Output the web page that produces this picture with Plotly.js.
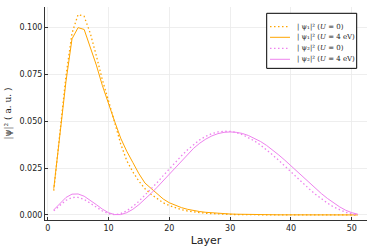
<!DOCTYPE html>
<html><head><meta charset="utf-8">
<script src="https://cdn.plot.ly/plotly-3.0.1.min.js"></script>
<style>html,body{margin:0;padding:0;background:#fff;}</style>
</head><body>
<div id="chart" style="width:374px;height:249px;"></div>
<script>
const layers = Array.from({length: 51}, (_, i) => i + 1);
const psi1_U0 = [0.013,0.044,0.074,0.097,0.107,0.106,0.097,0.085,0.072,0.061,0.049,0.038,0.029,0.023,0.018,0.014,0.011,0.0085,0.0065,0.005,0.0037,0.0028,0.0021,0.0016,0.0012,0.0009,0.0007,0.0005,0.0004,0.0003,0.0002,0.00015,0.0001,0.00008,0.00006,0.00004,0.00003,0.00002,0.00002,0.00001,0.00001,0.00001,0,0,0,0,0,0,0,0,0];
const psi1_U4 = [0.014,0.043,0.071,0.094,0.100,0.099,0.090,0.080,0.069,0.059,0.050,0.041,0.034,0.028,0.022,0.017,0.014,0.011,0.0085,0.0065,0.005,0.0039,0.003,0.0023,0.0018,0.0014,0.0011,0.0008,0.0006,0.0005,0.0004,0.0003,0.00022,0.00017,0.00013,0.0001,0.00008,0.00006,0.00005,0.00004,0.00003,0.00002,0.00002,0.00001,0.00001,0.00001,0,0,0,0,0];
const psi2_U0 = [0.0022,0.005,0.0078,0.0093,0.0094,0.0083,0.0064,0.0042,0.0021,0.0007,0.0001,0.0007,0.0022,0.0045,0.0073,0.0105,0.0138,0.0173,0.021,0.0246,0.0282,0.0316,0.0348,0.0377,0.0401,0.042,0.0434,0.0443,0.0447,0.0446,0.044,0.0429,0.0414,0.0395,0.0373,0.0348,0.032,0.0291,0.026,0.0229,0.0198,0.0168,0.0139,0.0111,0.0086,0.0063,0.0043,0.0027,0.0014,0.0005,0.0001];
const psi2_U4 = [0.0027,0.006,0.0093,0.0111,0.0112,0.0100,0.0079,0.0055,0.0031,0.0012,0.0002,0.0002,0.0012,0.003,0.0055,0.0084,0.0115,0.0148,0.0183,0.0218,0.0254,0.029,0.0325,0.0356,0.0383,0.0405,0.0422,0.0434,0.0441,0.0443,0.0441,0.0435,0.0424,0.041,0.0392,0.0371,0.0347,0.032,0.0292,0.0262,0.0232,0.0201,0.0171,0.0142,0.0114,0.0088,0.0064,0.0043,0.0025,0.0012,0.0004];
const seriesNames = [
  '| ψ₁|² (<i>U</i> = 0)',
  '| ψ₁|² (<i>U</i> = 4 eV)',
  '| ψ₂|² (<i>U</i> = 0)',
  '| ψ₂|² (<i>U</i> = 4 eV)'
];
const xTicks = [0,10,20,30,40,50];
const yTicks = [0,0.025,0.05,0.075,0.1];
const yTickText = ['0.000','0.025','0.050','0.075','0.100'];

const orange = '#FFA500', violet = '#EE82EE';
const dotDash = '1.5px,2.5px';
const styles = [
  {color: orange, width: 1.3, dash: dotDash},
  {color: orange, width: 1, dash: 'solid'},
  {color: violet, width: 1.3, dash: dotDash},
  {color: violet, width: 1, dash: 'solid'}
];
const seriesY = [psi1_U0, psi1_U4, psi2_U0, psi2_U4];
const traces = seriesY.map((y, i) => ({
  x: layers, y: y, name: seriesNames[i], mode: 'lines', line: styles[i], showlegend: false
}));

// custom compact legend (paper coordinates)
const legX0 = 0.6885, legX1 = 0.968, legY0 = 0.712, legY1 = 0.9704;
const rowY = [0.9075, 0.8577, 0.8061, 0.7545];
const shapes = [{type: 'rect', xref: 'paper', yref: 'paper', x0: legX0, x1: legX1, y0: legY0, y1: legY1,
  line: {color: '#000', width: 1}, fillcolor: '#fff', layer: 'above'}];
const annotations = [];
rowY.forEach((yy, i) => {
  shapes.push({type: 'line', xref: 'paper', yref: 'paper', x0: 0.6988, x1: 0.7609, y0: yy, y1: yy,
    line: {color: styles[i].color, width: styles[i].width, dash: styles[i].dash}, layer: 'above'});
  annotations.push({xref: 'paper', yref: 'paper', x: 0.7764, y: yy, xanchor: 'left', yanchor: 'middle',
    text: seriesNames[i], showarrow: false, font: {family: 'DejaVu Serif, serif', size: 7, color: '#222'}});
});

const layout = {
  width: 374, height: 249,
  margin: {l: 45, r: 7, t: 7, b: 29, pad: 0},
  paper_bgcolor: '#fff', plot_bgcolor: '#fff',
  font: {family: 'DejaVu Sans, sans-serif', size: 8, color: '#222'},
  showlegend: false,
  shapes: shapes, annotations: annotations,
  xaxis: {
    range: [-0.44, 52.5], tickvals: xTicks, ticktext: xTicks.map(String),
    ticks: 'inside', ticklen: 3, tickcolor: '#333',
    showgrid: true, gridcolor: '#eaeaea', gridwidth: 0.8, zeroline: false,
    showline: true, linecolor: '#333', linewidth: 1,
    title: {text: 'Layer', font: {size: 11, family: 'DejaVu Sans, sans-serif', color: '#222'}, standoff: 4},
    automargin: false
  },
  yaxis: {
    range: [-0.0027, 0.111], tickvals: yTicks, ticktext: yTickText,
    ticks: 'inside', ticklen: 3, tickcolor: '#333',
    showgrid: true, gridcolor: '#eaeaea', gridwidth: 0.8, zeroline: false,
    showline: true, linecolor: '#333', linewidth: 1,
    title: {text: '|ψ|² ( a. u. )', font: {size: 9, family: 'DejaVu Serif, serif', color: '#222'}, standoff: 6},
    automargin: false
  }
};
Plotly.newPlot('chart', traces, layout, {displayModeBar: false, staticPlot: true});
</script>
</body></html>
